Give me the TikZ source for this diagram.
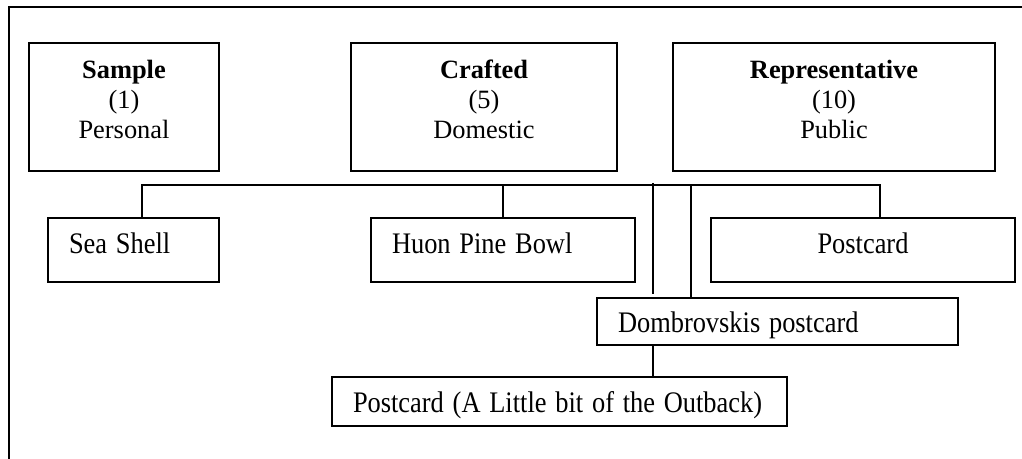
\documentclass[tikz,border=0pt]{standalone}
\usepackage{fontspec}
\usepackage{graphicx}
\setmainfont{Liberation Serif}
\newcommand\vstretch[1]{\scalebox{1}[1.13]{#1}}
\begin{document}
\begin{tikzpicture}[x=0.75pt,y=-0.75pt,
  every node/.style={font=\fontsize{19.8pt}{22.5pt}\selectfont},
  ln/.style={line width=1.5pt},
  topbox/.style={draw,ln,anchor=north west,inner sep=0pt,minimum height=96pt,text height=10pt,text depth=52pt},
  lowbox/.style={draw,ln,anchor=north west,inner xsep=15.75pt,inner ysep=0pt,align=left},
  midbox/.style={lowbox,minimum height=48pt,text height=16pt,text depth=10pt},
  thinbox/.style={lowbox,text height=20pt,text depth=2.75pt}
]
\useasboundingbox (0,0) rectangle (1022,459);
% outer frame (cropped at right and bottom)
\draw[ln] (1022,7) -- (9,7) -- (9,459);

% top row
\node[topbox,minimum width=142.5pt] (sample) at (28,42)
  {\begin{tabular}[t]{@{}c@{}}\textbf{Sample}\\(1)\\Personal\end{tabular}};
\node[topbox,minimum width=199.5pt] (crafted) at (350,42)
  {\begin{tabular}[t]{@{}c@{}}\textbf{Crafted}\\(5)\\Domestic\end{tabular}};
\node[topbox,minimum width=241.5pt] (repr) at (672,42)
  {\begin{tabular}[t]{@{}c@{}}\textbf{Representative}\\(10)\\Public\end{tabular}};

% second row
\node[midbox,text width=96.75pt] (sea) at (47,217) {\vstretch{Sea Shell}};
\node[midbox,text width=166.5pt] (huon) at (370,217) {\vstretch{Huon Pine Bowl}};
\node[draw,ln,anchor=north west,inner sep=0pt,minimum width=228pt,minimum height=48pt,
      text height=16pt,text depth=10pt] (post) at (710,217) {\vstretch{Postcard}};

% lower boxes
\node[thinbox,text width=239.25pt,minimum height=35.25pt] (dom) at (596,297)
  {\vstretch{Dombrovskis postcard}};
\node[thinbox,text width=309.75pt,minimum height=36.75pt] (out) at (331,376)
  {\vstretch{Postcard (A Little bit of the Outback)}};

% connectors
\coordinate (busL) at (142,185);
\coordinate (busR) at (880,185);
\draw[ln] (sea.north -| busL) -- (busL) -- (busR) -- (post.north -| busR);
\draw[ln] (huon.north) -- (huon.north |- busL);

\coordinate (vAtop) at (653,183);
\coordinate (vAbot) at (653,294);
\draw[ln] (vAtop) -- (vAbot);
\coordinate (vBtop) at (691,185);
\draw[ln] (vBtop) -- (dom.north -| vBtop);
\draw[ln] (dom.south -| vAtop) -- (out.north -| vAtop);
\end{tikzpicture}
\end{document}
